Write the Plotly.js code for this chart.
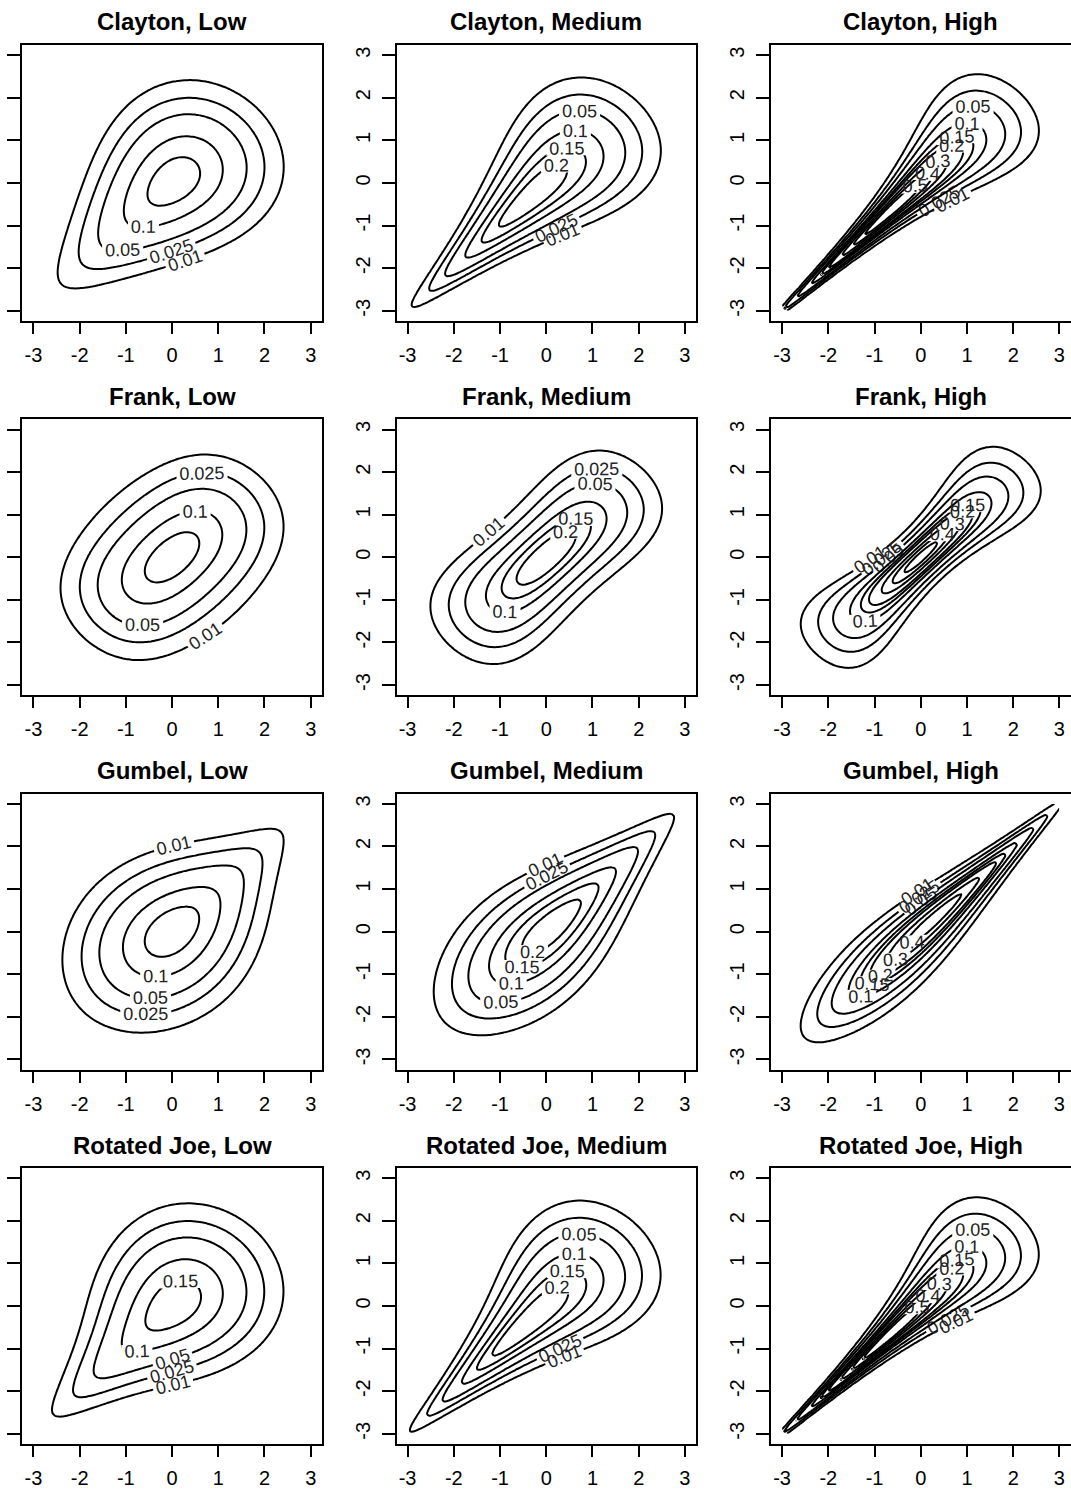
<!DOCTYPE html>
<html><head><meta charset="utf-8">
<script src="https://cdn.plot.ly/plotly-3.0.1.min.js"></script>
<style>html,body{margin:0;padding:0;background:#fff}#chart{width:1071px;height:1494px}</style>
</head><body><div id="chart"></div>
<script>
// ---- data ----
const families = ['Clayton', 'Frank', 'Gumbel', 'Rotated Joe'];
const strengths = ['Low', 'Medium', 'High'];
const kendallTau = [0.25, 0.5, 0.75];
const contourLevels = [0.01, 0.025, 0.05, 0.1, 0.15, 0.2, 0.3, 0.4, 0.5];
const tickValues = [-3, -2, -1, 0, 1, 2, 3];
const tickLabels = ['-3', '-2', '-1', '0', '1', '2', '3'];
const gridLimits = [-3, 3];
const gridSize = 100;

// ---- normal margins ----
function erfc(x) {
  const z = Math.abs(x), t = 1 / (1 + 0.5 * z);
  const r = t * Math.exp(-z * z - 1.26551223 + t * (1.00002368 + t * (0.37409196 + t * (0.09678418 +
    t * (-0.18628806 + t * (0.27886807 + t * (-1.13520398 + t * (1.48851587 + t * (-0.82215223 + t * 0.17087277)))))))));
  return x >= 0 ? r : 2 - r;
}
const pnorm = z => 0.5 * erfc(-z / Math.SQRT2);
const dnorm = z => Math.exp(-0.5 * z * z) / Math.sqrt(2 * Math.PI);

// ---- tau -> parameter ----
function bisect(f, target, lo, hi) {
  for (let i = 0; i < 200; i++) { const m = 0.5 * (lo + hi); if (f(m) < target) lo = m; else hi = m; }
  return 0.5 * (lo + hi);
}
function frankTau(th) {
  const n = 400, h = th / n; let s = 0;
  const g = t => t === 0 ? 1 : t / Math.expm1(t);
  for (let i = 0; i <= n; i++) { const w = (i === 0 || i === n) ? 1 : (i % 2 ? 4 : 2); s += w * g(i * h); }
  const D1 = (s * h / 3) / th;
  return 1 - 4 / th * (1 - D1);
}
function joeTau(th) {
  let s = 0;
  for (let k = 1; k <= 20000; k++) s += 1 / (k * (th * k + 2) * (th * (k - 1) + 2));
  return 1 - 4 * s;
}
const paramFromTau = {
  'Clayton': t => 2 * t / (1 - t),
  'Gumbel': t => 1 / (1 - t),
  'Frank': t => bisect(frankTau, t, 0.01, 200),
  'Rotated Joe': t => bisect(joeTau, t, 1.0001, 100)
};

// ---- copula densities ----
function copDens(fam, th, u, ub, v, vb) {
  const lu = u < 0.5 ? Math.log(u) : Math.log1p(-ub);
  const lv = v < 0.5 ? Math.log(v) : Math.log1p(-vb);
  if (fam === 'Clayton') {
    return Math.exp(Math.log(1 + th) - (th + 1) * (lu + lv) - (2 + 1 / th) * Math.log(Math.exp(-th * lu) + Math.exp(-th * lv) - 1));
  }
  if (fam === 'Frank') {
    const a = -Math.expm1(-th);
    const num = th * a * Math.exp(-th * (u + v));
    const d = a - (-Math.expm1(-th * u)) * (-Math.expm1(-th * v));
    return num / (d * d);
  }
  if (fam === 'Gumbel') {
    const x = -lu, y = -lv;
    const A = Math.pow(x, th) + Math.pow(y, th), w = Math.pow(A, 1 / th);
    return Math.exp(-w - lu - lv + (th - 1) * (Math.log(x) + Math.log(y)) + (2 / th - 2) * Math.log(A) + Math.log(1 + (th - 1) / w));
  }
  // survival (180 deg rotated) Joe
  const a = Math.pow(u, th), b = Math.pow(v, th), S = a + b - a * b;
  return Math.pow(S, 1 / th - 2) * Math.pow(u, th - 1) * Math.pow(v, th - 1) * (th - 1 + S);
}

const grid = [];
for (let i = 0; i < gridSize; i++) grid.push(gridLimits[0] + (gridLimits[1] - gridLimits[0]) * i / (gridSize - 1));
const U = grid.map(pnorm), UB = grid.map(z => pnorm(-z)), PHI = grid.map(dnorm);

function densityGrid(fam, th) {
  const z = [];
  for (let j = 0; j < gridSize; j++) {
    const row = [];
    for (let i = 0; i < gridSize; i++) {
      row.push(copDens(fam, th, U[i], UB[i], U[j], UB[j]) * PHI[i] * PHI[j]);
    }
    z.push(row);
  }
  return z;
}

// ---- layout geometry (pixels) ----
const W = 1071, H = 1494;
const colLeft = [22.3, 396.5, 771];
const rowTop = [45, 419.3, 793.6, 1168];
const boxW = 299.5, boxH = 276;
const axRange = [-3.24, 3.24];

const traces = [];
const layout = {
  width: W, height: H, margin: {l: 0, r: 0, t: 0, b: 0},
  paper_bgcolor: '#fff', plot_bgcolor: '#fff', showlegend: false,
  annotations: []
};

let k = 0;
families.forEach((fam, r) => {
  strengths.forEach((st, c) => {
    k++;
    const th = paramFromTau[fam](kendallTau[c]);
    const z = densityGrid(fam, th);
    const xa = 'x' + (k === 1 ? '' : k), ya = 'y' + (k === 1 ? '' : k);
    contourLevels.forEach(lv => {
      traces.push({
        type: 'contour', x: grid, y: grid, z: z, xaxis: xa, yaxis: ya,
        autocontour: false,
        contours: {start: lv, end: lv, size: 1, coloring: 'lines', showlabels: true,
          labelformat: '.3~g',
          labelfont: {family: 'Liberation Sans, Arial, sans-serif', size: 18, color: '#222'}},
        colorscale: [[0, '#000'], [1, '#000']], showscale: false,
        line: {width: 2, smoothing: 1},
        hoverinfo: 'skip'
      });
    });
    const L = colLeft[c], T = rowTop[r];
    const common = {
      range: axRange, tickmode: 'array', tickvals: tickValues, ticktext: tickLabels,
      ticks: 'outside', tickwidth: 2, tickcolor: '#000',
      showline: true, mirror: true, linewidth: 2, linecolor: '#000',
      showgrid: false, zeroline: false, fixedrange: true,
      tickfont: {family: 'Liberation Sans, Arial, sans-serif', size: 20, color: '#000'}
    };
    layout['xaxis' + (k === 1 ? '' : k)] = Object.assign({}, common, {
      domain: [L / W, Math.min(1, (L + boxW) / W)], anchor: ya, ticklen: 11, ticklabelstandoff: 4
    });
    layout['yaxis' + (k === 1 ? '' : k)] = Object.assign({}, common, {
      domain: [1 - (T + boxH) / H, 1 - T / H], anchor: xa, ticklen: 13, tickangle: -90,
      showticklabels: c > 0, ticklabelstandoff: 4
    });
    layout.annotations.push({
      xref: 'paper', yref: 'paper', x: (L + boxW / 2) / W, y: 1 - (T - 23) / H,
      xanchor: 'center', yanchor: 'middle', showarrow: false,
      text: '<b>' + fam + ', ' + st + '</b>',
      font: {family: 'Liberation Sans, Arial, sans-serif', size: 24, color: '#000'}
    });
  });
});

Plotly.newPlot('chart', traces, layout, {staticPlot: true, displayModeBar: false});
</script>
</body></html>
